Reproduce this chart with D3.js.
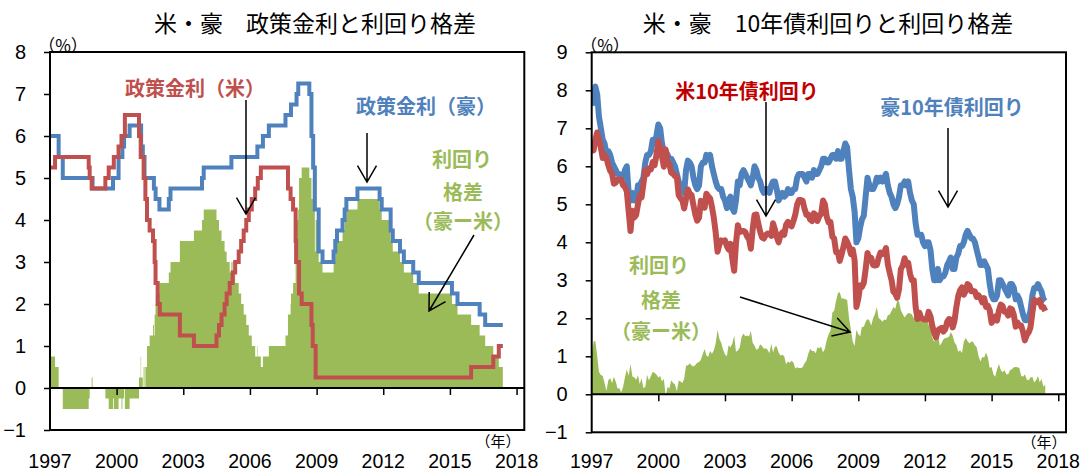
<!DOCTYPE html>
<meta charset="utf-8">
<style>
    body { margin: 0; background: #fff; }
    text { font-family: "Liberation Sans", Arial, sans-serif; }
    .jp { font-family: "Noto Sans CJK JP", sans-serif; }
    .box { fill: none; stroke: #000; stroke-width: 2px; }
    .zero { stroke: #000; stroke-width: 2px; }
    .arrow { fill: none; stroke: #000; stroke-width: 1.5px; }
</style>
<svg width="1081" height="473"></svg>
<script src="https://d3js.org/d3.v7.min.js"></script>
<script>

    // year tick labels (both panels)
    var yearTicks = [1997, 2000, 2003, 2006, 2009, 2012, 2015, 2018];

    // policy rates: [date of change, rate %]
    var fedRate = [
        ["1997-01-01", 5.25], ["1997-03-25", 5.5], ["1998-09-29", 5.25], ["1998-10-15", 5.0], ["1998-11-17", 4.75],
        ["1999-06-30", 5.0], ["1999-08-24", 5.25], ["1999-11-16", 5.5], ["2000-02-02", 5.75], ["2000-03-21", 6.0],
        ["2000-05-16", 6.5], ["2001-01-03", 6.0], ["2001-01-31", 5.5], ["2001-03-20", 5.0], ["2001-04-18", 4.5],
        ["2001-05-15", 4.0], ["2001-06-27", 3.75], ["2001-08-21", 3.5], ["2001-09-17", 3.0], ["2001-10-02", 2.5],
        ["2001-11-06", 2.0], ["2001-12-11", 1.75], ["2002-11-06", 1.25], ["2003-06-25", 1.0], ["2004-06-30", 1.25],
        ["2004-08-10", 1.5], ["2004-09-21", 1.75], ["2004-11-10", 2.0], ["2004-12-14", 2.25], ["2005-02-02", 2.5],
        ["2005-03-22", 2.75], ["2005-05-03", 3.0], ["2005-06-30", 3.25], ["2005-08-09", 3.5], ["2005-09-20", 3.75],
        ["2005-11-01", 4.0], ["2005-12-13", 4.25], ["2006-01-31", 4.5], ["2006-03-28", 4.75], ["2006-05-10", 5.0],
        ["2006-06-29", 5.25], ["2007-09-18", 4.75], ["2007-10-31", 4.5], ["2007-12-11", 4.25], ["2008-01-22", 3.5],
        ["2008-01-30", 3.0], ["2008-03-18", 2.25], ["2008-04-30", 2.0], ["2008-10-08", 1.5], ["2008-10-29", 1.0],
        ["2008-12-16", 0.25], ["2015-12-16", 0.5], ["2016-12-14", 0.75], ["2017-03-15", 1.0]
    ];
    var rbaRate = [
        ["1997-01-01", 6.0], ["1997-05-23", 5.5], ["1997-07-30", 5.0], ["1998-12-02", 4.75], ["1999-11-03", 5.0],
        ["2000-02-02", 5.5], ["2000-04-05", 5.75], ["2000-05-03", 6.0], ["2000-08-02", 6.25], ["2001-02-07", 5.75],
        ["2001-03-07", 5.5], ["2001-04-04", 5.0], ["2001-09-05", 4.75], ["2001-10-03", 4.5], ["2001-12-05", 4.25],
        ["2002-05-08", 4.5], ["2002-06-05", 4.75], ["2003-11-05", 5.0], ["2003-12-03", 5.25], ["2005-03-02", 5.5],
        ["2006-05-03", 5.75], ["2006-08-02", 6.0], ["2006-11-08", 6.25], ["2007-08-08", 6.5], ["2007-11-07", 6.75],
        ["2008-02-06", 7.0], ["2008-03-05", 7.25], ["2008-09-03", 7.0], ["2008-10-08", 6.0], ["2008-11-05", 5.25],
        ["2008-12-03", 4.25], ["2009-02-04", 3.25], ["2009-04-08", 3.0], ["2009-10-07", 3.25], ["2009-11-04", 3.5],
        ["2009-12-02", 3.75], ["2010-03-03", 4.0], ["2010-04-07", 4.25], ["2010-05-05", 4.5], ["2010-11-03", 4.75],
        ["2011-11-02", 4.5], ["2011-12-07", 4.25], ["2012-05-02", 3.75], ["2012-06-06", 3.5], ["2012-10-03", 3.25],
        ["2012-12-05", 3.0], ["2013-05-08", 2.75], ["2013-08-07", 2.5], ["2015-02-04", 2.25], ["2015-05-06", 2.0],
        ["2016-05-04", 1.75], ["2016-08-03", 1.5]
    ];
    var rateEnd = "2017-05-20";

    // 10-year yields, monthly from Jan 1997
    var us10y = [
        6.58, 6.42, 6.69, 6.89, 6.71, 6.49, 6.22, 6.30, 6.21, 6.03, 5.88, 5.81,
        5.54, 5.57, 5.65, 5.64, 5.65, 5.50, 5.46, 5.34, 4.81, 4.30, 4.83, 4.65,
        4.72, 5.00, 5.23, 5.18, 5.54, 5.90, 5.79, 5.94, 5.92, 6.11, 6.03, 6.28,
        6.66, 6.52, 6.26, 5.99, 6.44, 6.10, 6.05, 5.83, 5.80, 5.74, 5.72, 5.24,
        5.16, 5.10, 4.89, 5.14, 5.39, 5.28, 5.24, 4.97, 4.73, 4.57, 4.65, 5.09,
        5.04, 4.91, 5.28, 5.21, 5.16, 4.93, 4.65, 4.26, 3.75, 3.94, 4.05, 4.03,
        4.05, 3.90, 3.81, 3.96, 3.57, 3.25, 3.98, 4.45, 4.27, 4.29, 4.30, 4.27,
        4.15, 4.08, 3.83, 4.35, 4.72, 4.73, 4.50, 4.28, 4.13, 4.10, 4.19, 4.23,
        4.22, 4.17, 4.50, 4.34, 4.14, 4.00, 4.18, 4.26, 4.20, 4.46, 4.54, 4.47,
        4.42, 4.57, 4.72, 4.99, 5.11, 5.11, 5.09, 4.88, 4.72, 4.73, 4.60, 4.56,
        4.76, 4.72, 4.56, 4.69, 4.75, 5.10, 5.00, 4.67, 4.52, 4.53, 4.15, 4.10,
        3.74, 3.74, 3.51, 3.68, 3.88, 4.10, 4.01, 3.89, 3.69, 3.81, 3.53, 2.30,
        2.52, 2.87, 2.82, 2.93, 3.29, 3.72, 3.56, 3.59, 3.40, 3.39, 3.40, 3.59,
        3.73, 3.69, 3.73, 3.85, 3.42, 3.20, 3.01, 2.70, 2.65, 2.54, 2.76, 3.29,
        3.39, 3.58, 3.41, 3.46, 3.17, 3.00, 3.00, 2.30, 1.98, 2.15, 2.01, 1.98,
        1.97, 1.97, 2.17, 2.05, 1.80, 1.62, 1.50, 1.68, 1.72, 1.75, 1.65, 1.72,
        1.91, 1.98, 1.96, 1.76, 1.93, 2.30, 2.58, 2.74, 2.81, 2.62, 2.72, 2.90,
        2.86, 2.71, 2.72, 2.71, 2.56, 2.60, 2.54, 2.42, 2.53, 2.30, 2.33, 2.21,
        1.88, 1.98, 2.04, 1.94, 2.20, 2.36, 2.32, 2.17, 2.17, 2.07, 2.26, 2.24,
        2.09, 1.78, 1.89, 1.81, 1.81, 1.64, 1.42, 1.56, 1.63, 1.76, 2.14, 2.49,
        2.43, 2.42, 2.48, 2.30, 2.30, 2.19
    ];
    var au10y = [
        7.60, 7.80, 8.10, 7.90, 7.30, 7.00, 6.70, 6.60, 6.30, 6.40, 6.30, 6.10,
        6.00, 5.90, 5.80, 5.80, 5.70, 5.70, 5.90, 6.00, 5.30, 5.10, 5.30, 5.10,
        5.10, 5.50, 5.50, 5.60, 5.70, 6.10, 6.30, 6.30, 6.40, 6.70, 6.60, 6.80,
        7.10, 7.00, 6.60, 6.40, 6.40, 6.30, 6.20, 6.20, 6.10, 6.00, 5.80, 5.60,
        5.50, 5.40, 5.30, 5.90, 6.15, 6.10, 6.00, 5.70, 5.50, 5.40, 5.50, 6.00,
        6.10, 6.10, 6.30, 6.20, 6.30, 6.00, 5.80, 5.60, 5.45, 5.40, 5.40, 5.20,
        5.10, 4.90, 5.10, 5.20, 4.90, 4.80, 5.10, 5.60, 5.50, 5.80, 5.90, 5.80,
        5.70, 5.60, 5.50, 5.70, 6.00, 5.90, 5.70, 5.60, 5.40, 5.30, 5.40, 5.40,
        5.30, 5.50, 5.60, 5.60, 5.40, 5.10, 5.20, 5.30, 5.20, 5.25, 5.40, 5.30,
        5.30, 5.40, 5.40, 5.70, 5.80, 5.80, 5.80, 5.70, 5.60, 5.80, 5.80, 5.70,
        5.90, 5.80, 5.80, 5.90, 6.00, 6.20, 6.20, 6.10, 6.10, 6.20, 6.30, 6.30,
        6.20, 6.40, 6.20, 6.20, 6.40, 6.60, 6.50, 5.90, 5.40, 5.20, 4.80, 4.00,
        4.10, 4.40, 4.60, 4.70, 5.20, 5.70, 5.50, 5.40, 5.40, 5.50, 5.70, 5.60,
        5.70, 5.60, 5.70, 5.80, 5.50, 5.30, 5.20, 5.00, 4.90, 5.00, 5.20, 5.50,
        5.50, 5.60, 5.50, 5.60, 5.30, 5.10, 5.00, 4.50, 4.20, 4.20, 4.20, 4.00,
        3.90, 4.00, 4.00, 3.80, 3.30, 3.00, 3.00, 3.30, 3.00, 3.10, 3.10, 3.20,
        3.40, 3.50, 3.60, 3.30, 3.30, 3.60, 3.70, 3.90, 3.90, 4.00, 4.20, 4.30,
        4.20, 4.10, 4.10, 4.00, 3.80, 3.60, 3.40, 3.40, 3.50, 3.40, 3.30, 2.90,
        2.60, 2.50, 2.50, 2.60, 3.00, 3.00, 2.90, 2.80, 2.70, 2.60, 2.90, 2.90,
        2.80, 2.50, 2.60, 2.50, 2.30, 2.10, 1.95, 1.95, 2.00, 2.20, 2.60, 2.80,
        2.80, 2.90, 2.80, 2.70, 2.50, 2.45
    ];

    var red = "#C0504D", blue = "#4F81BD", green = "#9BBB59";
    var parse = d3.timeParse("%Y-%m-%d");
    var svg = d3.select("svg");
    var axisStart = new Date(1997, 0, 1), axisEnd = new Date(2018, 4, 8);

    function toSteps(list) {
        return list.map(function (d) { return { date: parse(d[0]), value: d[1] }; });
    }
    function valueAt(steps, date) {
        var v = steps[0].value;
        steps.forEach(function (s) { if (s.date <= date) v = s.value; });
        return v;
    }

    function makePanel(id, left, right, top, bottom, yMax) {
        var x = d3.scaleTime().domain([axisStart, axisEnd]).range([left, right]);
        var y = d3.scaleLinear().domain([-1, yMax]).range([bottom, top]);
        var g = svg.append("g");
        svg.append("clipPath").attr("id", id).append("rect")
            .attr("x", left).attr("y", top).attr("width", right - left).attr("height", bottom - top);
        var plot = g.append("g").attr("clip-path", "url(#" + id + ")");
        return { x: x, y: y, g: g, plot: plot, left: left, right: right, top: top, bottom: bottom, yMax: yMax };
    }

    function drawFrame(p) {
        var g = p.g;
        g.append("line").attr("class", "zero")
            .attr("x1", p.left).attr("x2", p.right).attr("y1", p.y(0)).attr("y2", p.y(0));
        g.append("rect").attr("class", "box")
            .attr("x", p.left).attr("y", p.top).attr("width", p.right - p.left).attr("height", p.bottom - p.top);

        var yAxis = g.append("g").attr("transform", "translate(" + p.left + ",0)")
            .call(d3.axisLeft(p.y).tickValues(d3.range(-1, p.yMax + 1)).tickSize(6).tickPadding(18).tickSizeOuter(0));
        yAxis.select(".domain").remove();
        yAxis.selectAll("line").attr("stroke-width", 1.5);
        yAxis.selectAll("text").attr("font-size", 20).attr("font-family", "Liberation Sans").attr("fill", "#000");

        var xAxis = g.append("g").attr("transform", "translate(0," + p.y(0) + ")")
            .call(d3.axisBottom(p.x).tickValues(yearTicks.slice(1).map(function (yr) { return new Date(yr, 0, 1); }))
                .tickSize(7).tickFormat(""));
        xAxis.select(".domain").remove();
        xAxis.selectAll("line").attr("stroke-width", 1.5);

        g.selectAll(".year").data(yearTicks).enter().append("text")
            .attr("x", function (d) { return p.x(new Date(d, 0, 1)); })
            .attr("y", 467.5)
            .attr("text-anchor", "middle").attr("font-size", 19.5)
            .text(function (d) { return d; });
    }

    function label(x, y, txt, color, size, weight) {
        svg.append("text").attr("class", "jp")
            .attr("x", x).attr("y", y).attr("text-anchor", "middle")
            .attr("dominant-baseline", "central")
            .attr("font-size", size).attr("font-weight", weight || "bold")
            .attr("fill", color).text(txt);
    }

    function arrow(x1, y1, x2, y2) {
        var a = Math.atan2(y2 - y1, x2 - x1), len = 19, sp = Math.PI / 6;
        var h1 = [x2 - len * Math.cos(a - sp), y2 - len * Math.sin(a - sp)];
        var h2 = [x2 - len * Math.cos(a + sp), y2 - len * Math.sin(a + sp)];
        svg.append("path").attr("class", "arrow")
            .attr("d", "M" + x1 + "," + y1 + "L" + x2 + "," + y2 +
                "M" + h1[0] + "," + h1[1] + "L" + x2 + "," + y2 + "L" + h2[0] + "," + h2[1]);
    }

    // ---------- left panel: policy rates ----------
    var L = makePanel("clipL", 50, 524.3, 52, 430, 8);
    var fed = toSteps(fedRate), rba = toSteps(rbaRate), endDate = parse(rateEnd);
    var fedLine = fed.concat([{ date: endDate, value: fed[fed.length - 1].value }]);
    var rbaLine = rba.concat([{ date: endDate, value: rba[rba.length - 1].value }]);

    var changeDates = fed.concat(rba).map(function (d) { return +d.date; });
    changeDates = Array.from(new Set(changeDates)).sort(d3.ascending).map(function (t) { return new Date(t); });
    changeDates.push(endDate);
    var rateSpread = changeDates.map(function (d) {
        return { date: d, value: valueAt(rba, d) - valueAt(fed, d) };
    });

    L.plot.append("path").datum(rateSpread).attr("fill", green)
        .attr("d", d3.area().curve(d3.curveStepAfter)
            .x(function (d) { return L.x(d.date); }).y0(L.y(0)).y1(function (d) { return L.y(d.value); }));

    var stepLine = d3.line().curve(d3.curveStepAfter)
        .x(function (d) { return L.x(d.date); }).y(function (d) { return L.y(d.value); });
    L.plot.append("path").datum(rbaLine).attr("fill", "none").attr("stroke", blue).attr("stroke-width", 4).attr("d", stepLine);
    L.plot.append("path").datum(fedLine).attr("fill", "none").attr("stroke", red).attr("stroke-width", 4).attr("d", stepLine);
    drawFrame(L);

    // ---------- right panel: 10-year yields ----------
    var R = makePanel("clipR", 591.7, 1066, 52.3, 432.3, 9);
    var months = us10y.map(function (d, i) { return new Date(1997, i, 1); });
    var usSeries = us10y.map(function (v, i) { return { date: months[i], value: v }; });
    var auSeries = au10y.map(function (v, i) { return { date: months[i], value: v }; });
    var yieldSpread = au10y.map(function (v, i) { return { date: months[i], value: v - us10y[i] }; });

    R.plot.append("path").datum(yieldSpread).attr("fill", green)
        .attr("d", d3.area()
            .x(function (d) { return R.x(d.date); }).y0(R.y(0)).y1(function (d) { return R.y(d.value); }));

    var yLine = d3.line()
        .x(function (d) { return R.x(d.date); }).y(function (d) { return R.y(d.value); });
    R.plot.append("path").datum(auSeries).attr("fill", "none").attr("stroke", blue)
        .attr("stroke-width", 6).attr("stroke-linejoin", "round").attr("d", yLine);
    R.plot.append("path").datum(usSeries).attr("fill", "none").attr("stroke", red)
        .attr("stroke-width", 6).attr("stroke-linejoin", "round").attr("d", yLine);
    drawFrame(R);

    // ---------- titles and units ----------
    label(315, 22, "米・豪　政策金利と利回り格差", "#000", 23, "normal");
    label(828, 22, "米・豪　10年債利回りと利回り格差", "#000", 23, "normal");
    label(63, 44, "（%）", "#000", 17, "normal");
    label(605, 44, "（%）", "#000", 17, "normal");
    label(498, 440, "（年）", "#000", 15, "normal");
    label(1044, 441, "（年）", "#000", 15, "normal");

    // ---------- annotations ----------
    label(195, 87, "政策金利（米）", red, 20);
    arrow(246, 100, 246, 214);
    label(426, 105, "政策金利（豪）", blue, 20);
    arrow(367, 133, 367, 182);
    label(462, 158, "利回り", green, 20);
    label(463, 191, "格差", green, 20);
    label(463, 220, "（豪ー米）", green, 20);
    arrow(474, 235, 429, 311);

    label(747, 90, "米10年債利回り", "#C00000", 20);
    arrow(766, 102, 766, 216);
    label(952, 106, "豪10年債利回り", blue, 20);
    arrow(948, 128, 948, 207);
    label(659, 264, "利回り", green, 20);
    label(661, 299, "格差", green, 20);
    label(661, 330, "（豪ー米）", green, 20);
    arrow(740, 297, 850, 332);

</script>
